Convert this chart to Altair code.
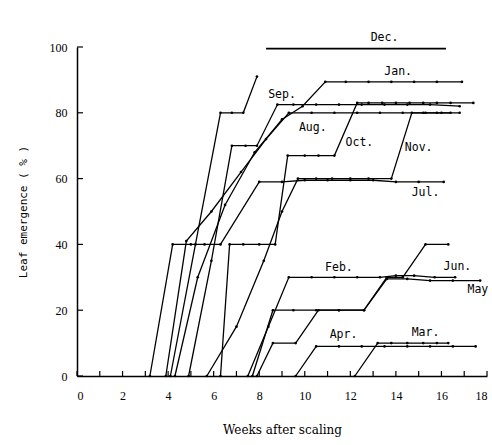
import altair as alt
import pandas as pd

# ---- data (weeks after scaling, leaf emergence %) ----
jul_w = [3.2, 4.2, 5.0, 5.6, 6.3, 8.0, 9.0, 10.0, 11.0, 12.0, 13.0, 14.0, 15.0, 16.1]
jul_p = [0, 40, 40, 40, 40, 59, 59, 59.5, 59.5, 59.5, 59.5, 59, 59, 59]

nov_w = [5.7, 7.0, 8.2, 9.0, 9.7, 10.5, 11.2, 12.0, 12.8, 13.8, 14.7, 15.2, 15.8, 16.4]
nov_p = [0, 15, 35, 50, 60, 60, 60, 60, 60, 60, 80, 80, 80, 80]

oct_w = [6.3, 6.7, 7.3, 8.0, 8.7, 9.25, 10.0, 10.6, 11.3, 12.3, 12.8, 13.4, 14.0, 14.6, 15.2, 15.8, 16.4, 17.4]
oct_p = [0, 40, 40, 40, 40, 67, 67, 67, 67, 83, 83, 83, 83, 83, 83, 83, 83, 83]

dec_w = [4.1, 5.2, 6.3, 6.8, 7.3, 7.9]
dec_p = [0, 40, 80, 80, 80, 91]
dec_top_w = [8.3, 16.2]
dec_top_p = [99.5, 99.5]

sep_w = [4.9, 5.9, 6.8, 7.4, 7.9, 8.8, 9.5, 10.5, 11.5, 12.5, 13.5, 14.5, 15.5, 16.8]
sep_p = [0, 35, 70, 70, 70, 82.5, 82.5, 82.5, 82.5, 82.5, 82.5, 82.5, 82.5, 82]

aug_w = [3.9, 4.8, 5.9, 7.2, 8.3, 9.3, 10.3, 11.3, 12.3, 13.3, 14.3, 15.3, 16.0, 16.8]
aug_p = [0, 41, 50, 62, 72, 80, 80, 80, 80, 80, 80, 80, 80, 80]

jan_w = [4.3, 5.3, 6.5, 7.8, 9.0, 9.9, 10.9, 11.8, 12.8, 13.8, 14.8, 15.8, 16.9]
jan_p = [0, 30, 52, 68, 78, 82, 89.4, 89.4, 89.4, 89.4, 89.4, 89.4, 89.4]

feb_w = [7.5, 8.4, 9.3, 10.3, 11.3, 12.3, 13.3, 14.0, 14.8, 15.7, 16.6]
feb_p = [0, 15, 30, 30, 30, 30, 30, 30.5, 30.5, 30, 30]

jun_w = [7.7, 8.6, 9.5, 10.5, 11.5, 12.6, 13.6, 14.3, 15.3, 16.3]
jun_p = [0, 20, 20, 20, 20, 20, 30, 30, 40, 40]

may_w = [7.9, 8.6, 9.6, 10.6, 11.5, 12.6, 13.6, 14.5, 15.5, 16.5, 17.7]
may_p = [0, 10, 10, 20, 20, 20, 29.5, 29.5, 29, 29, 29]

apr_w = [9.6, 10.5, 11.5, 12.5, 13.5, 14.5, 15.5, 16.5, 17.5]
apr_p = [0, 9, 9, 9, 9, 9, 9, 9, 9]

mar_w = [12.2, 13.2, 13.8, 14.5, 15.2, 15.8, 16.3]
mar_p = [0, 10, 10, 10, 10, 10, 10]

label_text = ["Dec.", "Jan.", "Sep.", "Aug.", "Oct.", "Nov.", "Jul.", "Feb.", "Jun.", "May", "Apr.", "Mar."]
label_w = [13.5, 14.1, 9.0, 10.35, 12.4, 15.0, 15.3, 11.5, 16.7, 17.6, 11.7, 15.3]
label_p = [102.7, 92.4, 85.4, 75.4, 70.8, 69.3, 55.6, 32.8, 33.1, 26.1, 12.5, 13.1]

x_tick_vals = list(range(0, 19))
x_label_vals = [0, 2, 4, 6, 8, 10, 12, 14, 16, 18]
y_tick_vals = [0, 20, 40, 60, 80, 100]

# ---- build tables ----
series = {
    "Jul": (jul_w, jul_p), "Nov": (nov_w, nov_p), "Oct": (oct_w, oct_p),
    "Dec": (dec_w, dec_p), "Sep": (sep_w, sep_p), "Aug": (aug_w, aug_p),
    "Jan": (jan_w, jan_p), "Feb": (feb_w, feb_p), "Jun": (jun_w, jun_p),
    "May": (may_w, may_p), "Apr": (apr_w, apr_p), "Mar": (mar_w, mar_p),
}
rows = []
for name, (ws, ps) in series.items():
    for i, (w, p) in enumerate(zip(ws, ps)):
        rows.append({"month": name, "week": w, "pct": p, "order": i})
df = pd.DataFrame(rows)
dec_top = pd.DataFrame({"week": dec_top_w, "pct": dec_top_p})
labels = pd.DataFrame({"text": label_text, "week": label_w, "pct": label_p})
xt = pd.DataFrame({"week": x_tick_vals})
yt = pd.DataFrame({"pct": y_tick_vals})

xscale = alt.Scale(domain=[0, 18], nice=False, zero=False)
yscale = alt.Scale(domain=[0, 100], nice=False)

xaxis = alt.Axis(values=x_label_vals, ticks=False, grid=False, domainColor="black",
                 domainWidth=1.5, labelFont="Liberation Serif", labelFontSize=12,
                 labelColor="black", labelPadding=14, title="Weeks after scaling",
                 titleFont="DejaVu Serif", titleFontSize=12, titleFontWeight="normal",
                 titleColor="black", titlePadding=23)
yaxis = alt.Axis(values=y_tick_vals, ticks=False, grid=False, domainColor="black",
                 domainWidth=1.5, labelFont="Liberation Serif", labelFontSize=12,
                 labelColor="black", labelPadding=10, title="Leaf emergence ( % )",
                 titleFont="DejaVu Sans Mono", titleFontSize=11, titleFontWeight="normal",
                 titleColor="black", titlePadding=21)

lines = alt.Chart(df).mark_line(
    color="black", strokeWidth=1.3,
    point=alt.OverlayMarkDef(filled=True, size=7, color="black")
).encode(
    x=alt.X("week:Q", scale=xscale, axis=xaxis),
    y=alt.Y("pct:Q", scale=yscale, axis=yaxis),
    detail="month:N",
    order="order:Q",
)

top = alt.Chart(dec_top).mark_line(color="black", strokeWidth=1.8).encode(
    x=alt.X("week:Q", scale=xscale), y=alt.Y("pct:Q", scale=yscale)
)

text = alt.Chart(labels).mark_text(font="DejaVu Sans Mono", fontSize=11.5, color="black").encode(
    x=alt.X("week:Q", scale=xscale), y=alt.Y("pct:Q", scale=yscale), text="text:N"
)

xticks = alt.Chart(xt).mark_rule(color="black", strokeWidth=1.2).encode(
    x=alt.X("week:Q", scale=xscale), y=alt.value(329), y2=alt.value(324)
)
yticks = alt.Chart(yt).mark_rule(color="black", strokeWidth=1.2).encode(
    y=alt.Y("pct:Q", scale=yscale), x=alt.value(0), x2=alt.value(6)
)

chart = alt.layer(lines, top, text, xticks, yticks).properties(
    width=410, height=329,
    autosize=alt.AutoSizeParams(type="none"),
    padding={"left": 77, "top": 47, "right": 5, "bottom": 69},
    background="white",
).configure_view(stroke=None)

chart.save("out.html", embed_options={"renderer": "svg", "actions": False})
